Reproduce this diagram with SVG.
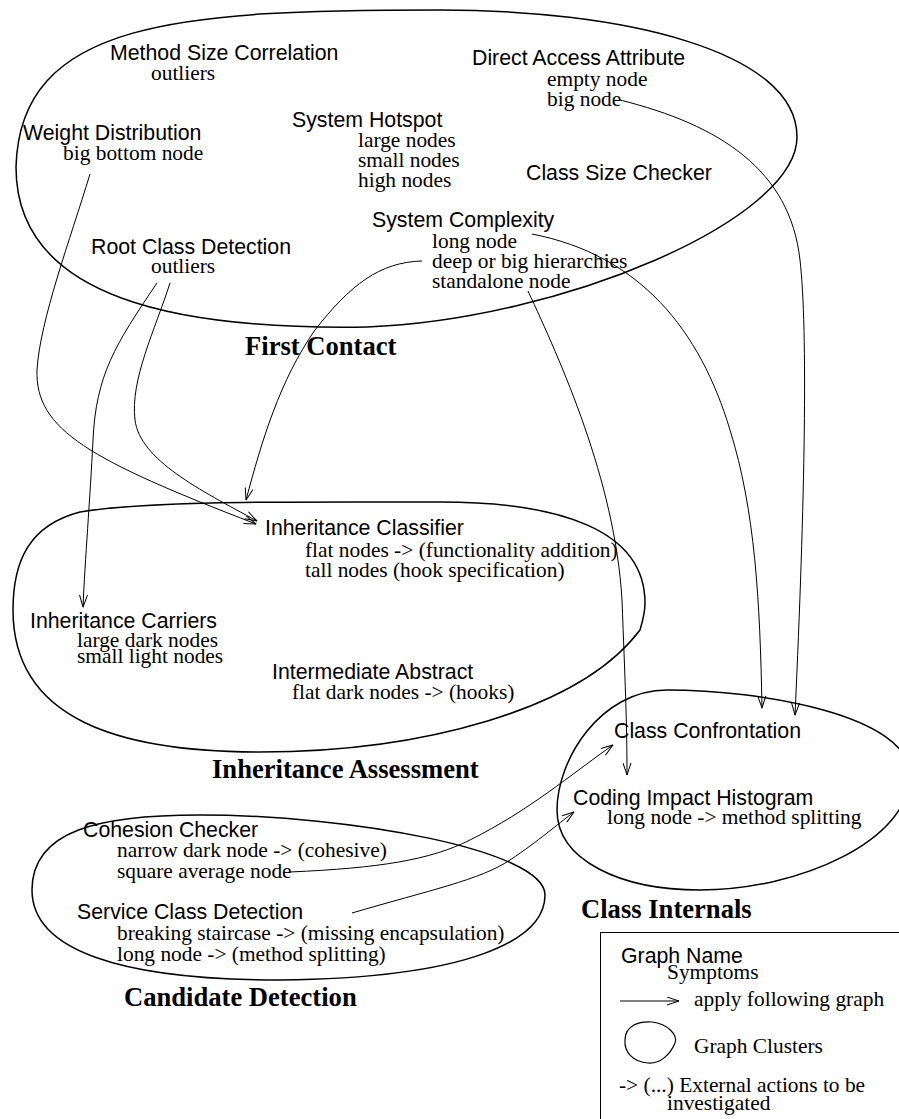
<svg xmlns="http://www.w3.org/2000/svg" width="899" height="1119" viewBox="0 0 899 1119">
  <style>
    .name{font-family:"Liberation Sans",Arial,Helvetica,sans-serif;font-size:21.3px;fill:#000}
    .sym{font-family:"Liberation Serif","Times New Roman",serif;font-size:21.4px;fill:#000}
    .title{font-family:"Liberation Serif","Times New Roman",serif;font-size:26.6px;font-weight:bold;fill:#000}
    .cluster{fill:none;stroke:#000;stroke-width:1.5}
    .edge{fill:none;stroke:#000;stroke-width:1;marker-end:url(#arrow)}
  </style>
  <defs>
    <marker id="arrow" markerUnits="userSpaceOnUse" viewBox="0 0 13 9" refX="12.5" refY="4.5" markerWidth="13" markerHeight="9" orient="auto">
      <path d="M0.5,0.5 L12.5,4.5 L0.5,8.5" fill="none" stroke="#000" stroke-width="1"/>
    </marker>
  </defs>
  <rect width="899" height="1119" fill="#fff"/>

  <!-- cluster outlines -->
  <g id="clusters">
    <path id="first-contact-outline" class="cluster" d="M16 167 C20 20 180 10 440 10 C620 10 797 50 797 137 C797 220 560 320 367 327 C180 330 16 300 16 167 Z"/>
    <path id="inheritance-assessment-outline" class="cluster" d="M645 603 C645 530 560 502 440 502 C300 502 150 500 80 512 C30 525 13 560 13 610 C13 720 120 752 260 752 C420 752 580 710 640 630 C643 620 645 612 645 603 Z"/>
    <path id="candidate-detection-outline" class="cluster" d="M32 890 C32 830 100 815 200 815 C350 815 545 850 545 895 C545 940 470 978 280 980 C120 980 32 950 32 890 Z"/>
    <path id="class-internals-outline" class="cluster" d="M557 810 C557 760 600 690 667 690 C760 690 910 715 910 775 C910 840 800 890 700 890 C620 890 557 860 557 810 Z"/>
  </g>

  <!-- cluster titles -->
  <g id="cluster-titles">
    <text class="title" x="245" y="355">First Contact</text>
    <text class="title" x="212" y="778">Inheritance Assessment</text>
    <text class="title" x="124" y="1006">Candidate Detection</text>
    <text class="title" x="581" y="918">Class Internals</text>
  </g>

  <!-- First Contact graphs -->
  <g id="method-size-correlation">
    <text class="name" x="110" y="60">Method Size Correlation</text>
    <text class="sym" x="151" y="80">outliers</text>
  </g>
  <g id="direct-access-attribute">
    <text class="name" x="472" y="65">Direct Access Attribute</text>
    <text class="sym" x="547" y="86">empty node</text>
    <text class="sym" x="547" y="106">big node</text>
  </g>
  <g id="weight-distribution">
    <text class="name" x="23" y="140">Weight Distribution</text>
    <text class="sym" x="63" y="160">big bottom node</text>
  </g>
  <g id="system-hotspot">
    <text class="name" x="292" y="127">System Hotspot</text>
    <text class="sym" x="358" y="147">large nodes</text>
    <text class="sym" x="358" y="167">small nodes</text>
    <text class="sym" x="358" y="187">high nodes</text>
  </g>
  <g id="class-size-checker">
    <text class="name" x="526" y="180">Class Size Checker</text>
  </g>
  <g id="system-complexity">
    <text class="name" x="372" y="227">System Complexity</text>
    <text class="sym" x="432" y="248">long node</text>
    <text class="sym" x="432" y="268">deep or big hierarchies</text>
    <text class="sym" x="432" y="288">standalone node</text>
  </g>
  <g id="root-class-detection">
    <text class="name" x="91" y="254">Root Class Detection</text>
    <text class="sym" x="151" y="273">outliers</text>
  </g>

  <!-- Inheritance Assessment graphs -->
  <g id="inheritance-classifier">
    <text class="name" x="265" y="535">Inheritance Classifier</text>
    <text class="sym" x="305" y="557">flat nodes -&gt; (functionality addition)</text>
    <text class="sym" x="305" y="577">tall nodes (hook specification)</text>
  </g>
  <g id="inheritance-carriers">
    <text class="name" x="30" y="628">Inheritance Carriers</text>
    <text class="sym" x="77" y="647">large dark nodes</text>
    <text class="sym" x="77" y="663">small light nodes</text>
  </g>
  <g id="intermediate-abstract">
    <text class="name" x="272" y="679">Intermediate Abstract</text>
    <text class="sym" x="292" y="699">flat dark nodes -&gt; (hooks)</text>
  </g>

  <!-- Candidate Detection graphs -->
  <g id="cohesion-checker">
    <text class="name" x="83" y="837">Cohesion Checker</text>
    <text class="sym" x="117" y="857">narrow dark node -&gt; (cohesive)</text>
    <text class="sym" x="117" y="878">square average node</text>
  </g>
  <g id="service-class-detection">
    <text class="name" x="77" y="919">Service Class Detection</text>
    <text class="sym" x="117" y="940">breaking staircase -&gt; (missing encapsulation)</text>
    <text class="sym" x="117" y="961">long node -&gt; (method splitting)</text>
  </g>

  <!-- Class Internals graphs -->
  <g id="class-confrontation">
    <text class="name" x="614" y="738">Class Confrontation</text>
  </g>
  <g id="coding-impact-histogram">
    <text class="name" x="573" y="805">Coding Impact Histogram</text>
    <text class="sym" x="607" y="824">long node -&gt; method splitting</text>
  </g>

  <!-- "apply following graph" connectors -->
  <g id="connectors">
    <path class="edge" d="M90 174 C70 240 40 320 37 370 C35 430 90 460 256 524"/>
    <path class="edge" d="M157 283 C115 345 96 375 93 440 C90 500 85 560 83 607"/>
    <path class="edge" d="M170 283 C155 330 130 380 135 420 C140 460 200 490 257 521"/>
    <path class="edge" d="M422 261 C380 262 350 285 315 330 C280 380 262 440 246 500"/>
    <path class="edge" d="M532 234 C640 255 700 330 730 430 C755 510 760 600 762 708"/>
    <path class="edge" d="M620 100 C720 125 790 170 800 260 C808 330 805 500 795 715"/>
    <path class="edge" d="M528 291 C560 360 615 480 622 600 C625 680 627 720 627 775"/>
    <path class="edge" d="M290 872 C380 868 430 860 470 840 C530 810 570 775 613 745"/>
    <path class="edge" d="M352 913 C430 890 480 880 510 860 C540 840 555 826 574 812"/>
  </g>

  <!-- legend -->
  <g id="legend">
    <rect x="600.5" y="932.5" width="400" height="300" fill="none" stroke="#000" stroke-width="1"/>
    <text class="name" x="621" y="963">Graph Name</text>
    <text class="sym" x="667" y="979">Symptoms</text>
    <path class="edge" d="M620 1001 L679 1001"/>
    <text class="sym" x="694" y="1006">apply following graph</text>
    <path class="cluster" style="stroke-width:1.2" d="M625 1040 C625 1025 640 1021 652 1022 C668 1024 678 1035 675 1043 C670 1055 660 1064 648 1063 C633 1062 624 1052 625 1040 Z"/>
    <text class="sym" x="694" y="1053">Graph Clusters</text>
    <text class="sym" x="619" y="1092">-&gt; (...) External actions to be</text>
    <text class="sym" x="667" y="1110">investigated</text>
  </g>
</svg>
